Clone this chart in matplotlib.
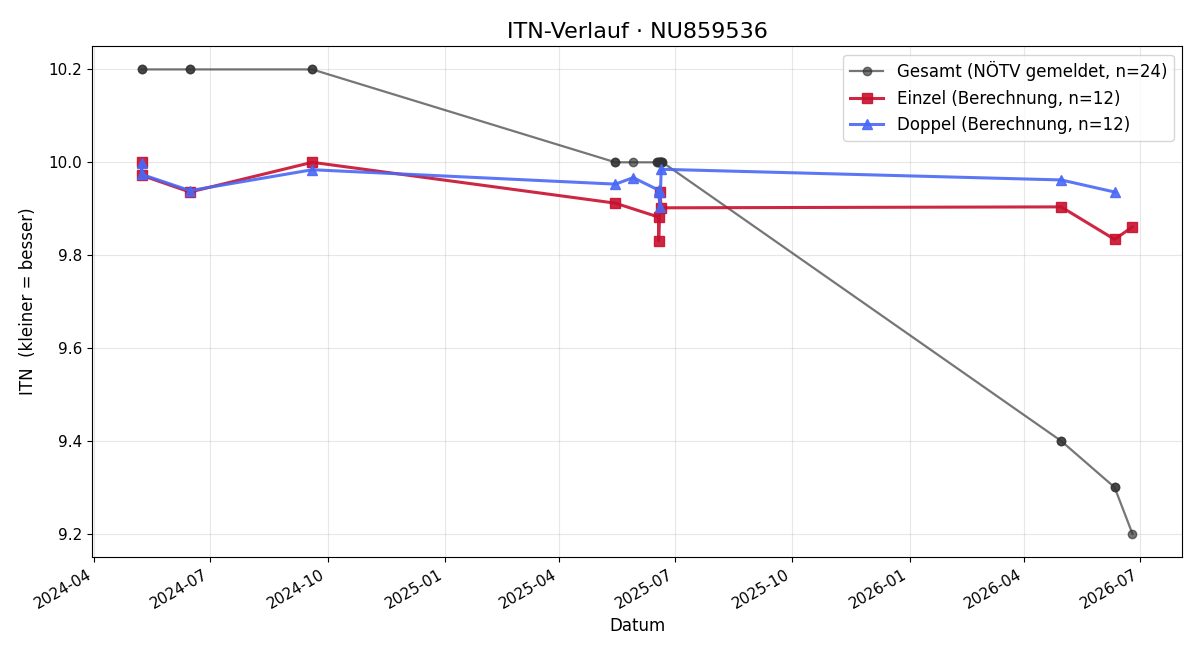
import matplotlib
matplotlib.use("Agg")
import matplotlib.pyplot as plt
import matplotlib.dates as mdates
import pandas as pd

# Gesamt (NÖTV gemeldet) - mehrere Meldungen am selben Tag
gesamt_dates = ["2024-05-08", "2024-05-08",
                "2024-06-15", "2024-06-15",
                "2024-09-19", "2024-09-19",
                "2025-05-15", "2025-05-15",
                "2025-05-29",
                "2025-06-17", "2025-06-17",
                "2025-06-18", "2025-06-18",
                "2025-06-19", "2025-06-19",
                "2025-06-20", "2025-06-20",
                "2025-06-21", "2025-06-21",
                "2026-04-30", "2026-04-30",
                "2026-06-11", "2026-06-11",
                "2026-06-25"]
gesamt_itn = [10.2, 10.2,
              10.2, 10.2,
              10.2, 10.2,
              10.0, 10.0,
              10.0,
              10.0, 10.0,
              10.0, 10.0,
              10.0, 10.0,
              10.0, 10.0,
              10.0, 10.0,
              9.4, 9.4,
              9.3, 9.3,
              9.2]

# Einzel (Berechnung)
einzel_dates = ["2024-05-08", "2024-05-08", "2024-06-15", "2024-09-19",
                "2025-05-15", "2025-06-18", "2025-06-18", "2025-06-19",
                "2025-06-20", "2026-04-30", "2026-06-11", "2026-06-25"]
einzel_itn = [10.0, 9.972, 9.936, 10.0,
              9.912, 9.882, 9.831, 9.935,
              9.902, 9.904, 9.834, 9.861]

# Doppel (Berechnung)
doppel_dates = ["2024-05-08", "2024-05-08", "2024-06-15", "2024-09-19",
                "2025-05-15", "2025-05-29", "2025-06-18", "2025-06-18",
                "2025-06-19", "2025-06-20", "2026-04-30", "2026-06-11"]
doppel_itn = [9.998, 9.974, 9.939, 9.984,
              9.953, 9.967, 9.94, 9.935,
              9.904, 9.985, 9.962, 9.936]

gesamt_dates = pd.to_datetime(gesamt_dates)
einzel_dates = pd.to_datetime(einzel_dates)
doppel_dates = pd.to_datetime(doppel_dates)

fig, ax = plt.subplots(figsize=(12, 6.6), dpi=100)

ax.plot(gesamt_dates, gesamt_itn, "o-", color="#333333", alpha=0.67, linewidth=1.6,
        markersize=6, label=f"Gesamt (NÖTV gemeldet, n={len(gesamt_itn)})")
ax.plot(einzel_dates, einzel_itn, "s-", color="#c8102e", alpha=0.9, linewidth=2.2,
        markersize=7, label=f"Einzel (Berechnung, n={len(einzel_itn)})")
ax.plot(doppel_dates, doppel_itn, "^-", color="#4a68f5", alpha=0.9, linewidth=2.2,
        markersize=7, label=f"Doppel (Berechnung, n={len(doppel_itn)})")

ax.set_title("ITN-Verlauf · NU859536", fontsize=16)
ax.set_xlabel("Datum", fontsize=12)
ax.set_ylabel("ITN  (kleiner = besser)", fontsize=12, labelpad=8)
ax.xaxis.set_major_locator(mdates.MonthLocator(bymonth=[1, 4, 7, 10]))
ax.xaxis.set_major_formatter(mdates.DateFormatter("%Y-%m"))
ax.tick_params(labelsize=11)
ax.grid(True, alpha=0.3)
ax.legend(loc="upper right", fontsize=12)
fig.autofmt_xdate()

fig.subplots_adjust(left=0.0767, right=0.985, top=0.930, bottom=0.156)
fig.savefig("out.png", dpi=100)
